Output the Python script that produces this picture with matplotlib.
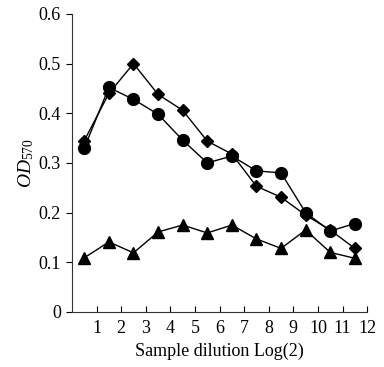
import matplotlib.pyplot as plt
from matplotlib.ticker import FuncFormatter

plt.rcParams['font.family'] = ['Liberation Serif', 'DejaVu Serif']
plt.rcParams['mathtext.fontset'] = 'custom'
plt.rcParams['mathtext.rm'] = 'Liberation Serif'
plt.rcParams['mathtext.it'] = 'Liberation Serif:italic'

# Sample dilution positions (Log2) and OD570 readings
x = [0.5, 1.5, 2.5, 3.5, 4.5, 5.5, 6.5, 7.5, 8.5, 9.5, 10.5, 11.5]
diamond = [0.345, 0.44, 0.50, 0.438, 0.406, 0.344, 0.318, 0.253, 0.231, 0.195, 0.165, 0.128]
circle = [0.33, 0.452, 0.428, 0.398, 0.346, 0.30, 0.314, 0.284, 0.28, 0.20, 0.163, 0.178]
triangle = [0.109, 0.141, 0.119, 0.161, 0.175, 0.159, 0.175, 0.147, 0.128, 0.165, 0.12, 0.108]

fig = plt.figure(figsize=(3.84, 3.67), dpi=100)
ax = fig.add_axes([0.1875, 0.150, 0.7685, 0.812])

ax.plot(x, diamond, color='black', lw=1, marker='D', ms=6)
ax.plot(x, circle, color='black', lw=1, marker='o', ms=8.5)
ax.plot(x, triangle, color='black', lw=1, marker='^', ms=8.5)

ax.set_xlim(0, 12)
ax.set_ylim(0, 0.6)
ax.set_xticks(range(1, 13))
ax.set_yticks([0, 0.1, 0.2, 0.3, 0.4, 0.5, 0.6])
ax.yaxis.set_major_formatter(FuncFormatter(lambda v, p: '0' if v == 0 else f'{v:.1f}'))
ax.tick_params(axis='x', direction='in', length=4, labelsize=13, pad=6)
ax.tick_params(axis='y', direction='out', length=4, labelsize=13, pad=4)
ax.spines['top'].set_visible(False)
ax.spines['right'].set_visible(False)
for s in ('left', 'bottom'):
    ax.spines[s].set_color('#333333')

ax.set_xlabel('Sample dilution Log(2)', fontsize=13, labelpad=4)
ax.set_ylabel(r'$OD_{570}$', fontsize=14, labelpad=2)

plt.savefig('out.png')
